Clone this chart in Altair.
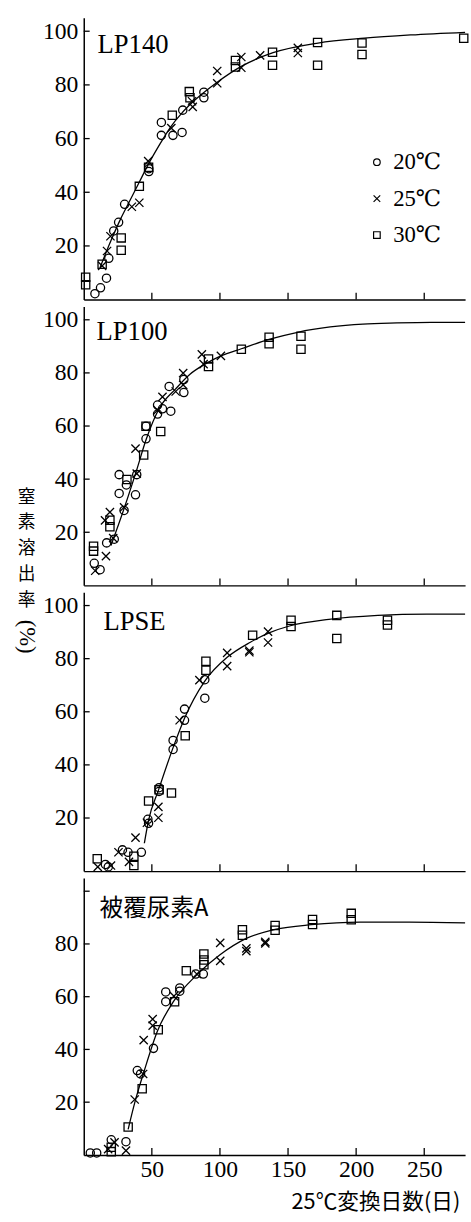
import altair as alt
import pandas as pd

# ---------------- data ----------------
TEMPS = ["20℃", "25℃", "30℃"]
X_TICKS = [50, 100, 150, 200, 250]
Y_TICKS = [20, 40, 60, 80, 100]
PANEL_NAMES = ["LP140", "LP100", "LPSE", "被覆尿素A"]
Y_TITLE = "窒\n素\n溶\n出\n率"
Y_TITLE_UNIT = "(%)"
X_TITLE = "25℃変換日数(日)"

# LP140
LP140_20_X = [8.2, 12.3, 16.7, 18.4, 22.0, 25.6, 30.0, 47.8, 47.8, 57.0, 57.0, 65.5, 72.7, 72.2, 88.2, 88.2]
LP140_20_Y = [2.2, 4.4, 8.0, 15.4, 25.6, 28.8, 35.5, 48.8, 47.7, 66.0, 61.2, 61.2, 70.6, 62.3, 75.2, 77.3]
LP140_25_X = [13.5, 17.1, 19.6, 35.3, 40.8, 47.3, 64.3, 80.0, 79.5, 98.0, 98.0, 115.7, 115.7, 129.5, 157.2, 157.2]
LP140_25_Y = [12.6, 18.1, 23.6, 34.6, 36.1, 51.6, 63.9, 71.8, 73.9, 85.2, 80.6, 90.4, 86.4, 91.0, 93.8, 91.9]
LP140_30_X = [1.4, 1.4, 13.5, 27.5, 27.5, 40.8, 47.6, 65.0, 77.5, 78.0, 111.4, 111.4, 138.6, 138.6, 171.7, 171.7, 204.3, 204.3, 279.0]
LP140_30_Y = [8.3, 5.5, 13.2, 23.0, 18.4, 42.2, 49.3, 68.7, 77.5, 75.2, 89.1, 86.7, 92.2, 87.3, 95.8, 87.3, 95.6, 91.3, 97.4]
LP140_FIT_X = [12, 20, 27, 34, 41, 47, 56, 64, 72, 80, 98, 116, 139, 172, 206, 240, 280]
LP140_FIT_Y = [12, 22, 30, 37, 44, 50, 58, 64.5, 69.5, 73.6, 81, 87, 92, 95.6, 97.4, 98.6, 99.6]

# LP100
LP100_20_X = [7.7, 12.0, 16.8, 22.4, 26.0, 26.0, 31.3, 29.6, 38.0, 38.9, 45.7, 45.7, 54.2, 54.2, 57.8, 62.7, 63.9, 73.5, 73.5]
LP100_20_Y = [8.3, 5.9, 16.0, 17.4, 41.7, 34.6, 37.8, 28.2, 34.1, 41.7, 59.9, 55.2, 67.9, 64.5, 66.5, 74.9, 65.6, 77.5, 72.6]
LP100_25_X = [8.4, 16.3, 15.6, 19.2, 21.6, 29.6, 38.0, 38.9, 54.2, 57.8, 67.5, 73.0, 73.0, 86.7, 88.0, 100.7]
LP100_25_Y = [5.5, 11.0, 24.5, 27.6, 17.8, 29.4, 51.5, 42.1, 66.0, 71.0, 73.0, 79.9, 75.5, 87.0, 83.3, 86.4]
LP100_30_X = [7.2, 7.2, 19.2, 19.2, 31.7, 44.0, 45.7, 56.5, 91.6, 91.6, 115.7, 136.1, 136.1, 159.5, 159.5]
LP100_30_Y = [14.7, 12.9, 24.5, 22.1, 39.9, 49.1, 59.9, 57.9, 85.2, 82.4, 88.9, 93.4, 91.0, 93.8, 88.9]
LP100_FIT_X = [20, 30, 38.6, 45.8, 55.4, 67.5, 78, 89, 100.7, 115.7, 136, 157, 181, 205, 230, 255, 280]
LP100_FIT_Y = [15, 29.5, 43, 54.9, 66.6, 74, 79.5, 83.3, 86.4, 89.1, 92.6, 95.3, 97.3, 98.4, 98.8, 99, 99]

# LPSE
LPSE_20_X = [15.9, 18.0, 28.4, 32.5, 42.3, 47.1, 47.6, 55.3, 55.3, 65.6, 65.6, 74.0, 74.0, 88.9, 88.9]
LPSE_20_Y = [2.5, 1.6, 8.0, 7.1, 7.1, 19.5, 18.0, 31.4, 30.0, 49.2, 45.8, 61.0, 56.8, 72.1, 65.1]
LPSE_25_X = [10.3, 20.0, 25.5, 33.2, 38.0, 46.4, 54.8, 54.8, 70.4, 84.9, 105.3, 105.3, 121.6, 121.6, 135.3, 135.3]
LPSE_25_Y = [1.6, 2.1, 7.1, 3.5, 12.6, 18.2, 24.2, 20.1, 56.8, 71.9, 82.2, 77.2, 83.0, 82.4, 90.2, 86.1]
LPSE_30_X = [9.9, 36.8, 36.8, 47.6, 55.3, 64.4, 74.5, 89.7, 89.7, 124.0, 152.2, 152.2, 185.8, 185.8, 223.0, 223.0]
LPSE_30_Y = [4.7, 5.6, 2.1, 26.4, 30.6, 29.4, 51.0, 79.0, 75.6, 88.8, 94.5, 92.1, 96.3, 87.6, 94.5, 92.7]
LPSE_FIT_X = [44.5, 47.6, 54.8, 65.6, 74, 88.5, 105.3, 122, 136.5, 151, 180, 216, 252, 280]
LPSE_FIT_Y = [10.5, 19.2, 30.4, 46.5, 57.6, 71.3, 80.5, 86.1, 89.8, 92.3, 94.8, 96.3, 96.8, 96.8]

# 被覆尿素A
CU_20_X = [4.8, 9.5, 20.2, 31.0, 39.3, 41.7, 51.2, 60.2, 60.2, 70.5, 70.5, 87.8, 82.3]
CU_20_Y = [0.75, 0.75, 5.75, 5.0, 32.0, 30.7, 40.4, 61.8, 58.1, 63.3, 62.1, 68.6, 68.6]
CU_25_X = [17.9, 22.6, 31.0, 37.4, 43.6, 44.0, 50.6, 50.6, 66.2, 83.0, 100.2, 100.2, 119.4, 119.4, 133.3, 133.3]
CU_25_Y = [2.2, 4.75, 1.6, 21.0, 30.7, 43.5, 51.5, 49.0, 60.2, 68.6, 80.4, 73.6, 78.3, 77.3, 80.8, 80.2]
CU_30_X = [20.2, 20.2, 32.6, 42.9, 54.7, 66.7, 75.3, 88.2, 88.2, 88.2, 116.5, 116.5, 140.5, 140.5, 168.0, 168.0, 196.4, 196.4]
CU_30_Y = [2.9, 1.25, 10.6, 25.1, 47.5, 58.1, 69.8, 76.2, 73.9, 72.1, 85.4, 83.3, 87.0, 85.2, 89.3, 87.4, 91.6, 89.2]
CU_FIT_X = [32.6, 37.4, 44.6, 54.2, 66.2, 83, 99.8, 119, 140.5, 167, 203, 239, 280]
CU_FIT_Y = [9.7, 19.7, 32.2, 47.1, 58.4, 68.3, 75.8, 82, 85.5, 87.3, 88.3, 88.3, 88]

SERIES = [
    [(LP140_20_X, LP140_20_Y), (LP140_25_X, LP140_25_Y), (LP140_30_X, LP140_30_Y), (LP140_FIT_X, LP140_FIT_Y)],
    [(LP100_20_X, LP100_20_Y), (LP100_25_X, LP100_25_Y), (LP100_30_X, LP100_30_Y), (LP100_FIT_X, LP100_FIT_Y)],
    [(LPSE_20_X, LPSE_20_Y), (LPSE_25_X, LPSE_25_Y), (LPSE_30_X, LPSE_30_Y), (LPSE_FIT_X, LPSE_FIT_Y)],
    [(CU_20_X, CU_20_Y), (CU_25_X, CU_25_Y), (CU_30_X, CU_30_Y), (CU_FIT_X, CU_FIT_Y)],
]

# ---------------- styling ----------------
W = 387
HEIGHTS = [286, 283, 283, 281]
SERIF = "Liberation Serif, DejaVu Serif"
CJK = "Noto Sans CJK JP"
XS = alt.Scale(domain=[0, 280], nice=False, zero=False)
YS = alt.Scale(domain=[0, 105], nice=False, zero=False)
SHAPES = ["circle", "M-1,-1L1,1M-1,1L1,-1", "square"]
LABEL_POS = [(14, 28, SERIF, 27), (13, 26, SERIF, 27), (20, 30, SERIF, 27), (16, 32, CJK, 24)]


def make_panel(i):
    H = HEIGHTS[i]
    s20, s25, s30, fit = SERIES[i]
    rows = []
    for temp, (xs, ys) in zip(TEMPS, [s20, s25, s30]):
        for xv, yv in zip(xs, ys):
            rows.append({"x": xv, "y": yv, "temp": temp})
    pts = pd.DataFrame(rows)
    curve = pd.DataFrame({"x": fit[0], "y": fit[1]})

    if i == 3:
        xaxis = alt.Axis(values=X_TICKS, ticks=False, grid=False, labelFont=SERIF,
                         labelFontSize=24, labelPadding=3, labelColor="black",
                         title=X_TITLE, titleFont=CJK, titleFontSize=22,
                         titleFontWeight="normal", titleColor="black",
                         titleX=296, titleY=37, titleBaseline="top", titleAlign="center",
                         domainColor="black", domainWidth=1.5)
        yvals = [20, 40, 60, 80]
    else:
        xaxis = alt.Axis(labels=False, ticks=False, grid=False, title=None,
                         domainColor="black", domainWidth=1.5)
        yvals = Y_TICKS

    yaxis = alt.Axis(values=yvals, ticks=False, grid=False, labelFont=SERIF, labelFontSize=24,
                     labelPadding=6, labelColor="black", domainColor="black", domainWidth=1.5,
                     title=None)

    if i == 0:
        legend = alt.Legend(orient="none", legendX=286, legendY=135, title=None,
                            labelFont=SERIF, labelFontSize=23, labelColor="black",
                            labelOffset=5, rowPadding=13, symbolSize=45,
                            symbolStrokeWidth=1.2, symbolStrokeColor="black",
                            symbolFillColor="transparent")
    else:
        legend = None

    x_enc = alt.X("x:Q", scale=XS, axis=xaxis)
    y_enc = alt.Y("y:Q", scale=YS, axis=yaxis)

    points = alt.Chart(pts).mark_point(filled=False, size=70, strokeWidth=1.3, color="black", opacity=1).encode(
        x=x_enc, y=y_enc,
        shape=alt.Shape("temp:N", scale=alt.Scale(domain=TEMPS, range=SHAPES), legend=legend),
    )
    line = alt.Chart(curve).mark_line(color="black", strokeWidth=1.3, interpolate="monotone").encode(
        x=x_enc, y=y_enc
    )
    xt = alt.Chart(pd.DataFrame({"t": X_TICKS})).mark_rule(color="black", strokeWidth=1.3).encode(
        x=alt.X("t:Q", scale=XS, axis=xaxis), y=alt.value(H), y2=alt.value(H - 7)
    )
    yt = alt.Chart(pd.DataFrame({"t": Y_TICKS})).mark_rule(color="black", strokeWidth=1.3).encode(
        y=alt.Y("t:Q", scale=YS, axis=yaxis), x=alt.value(0), x2=alt.value(6)
    )
    lx, ly, lf, ls = LABEL_POS[i]
    label = alt.Chart(pd.DataFrame({"name": [PANEL_NAMES[i]]})).mark_text(
        align="left", baseline="middle", font=lf, fontSize=ls, color="black"
    ).encode(text="name:N", x=alt.value(lx), y=alt.value(ly))

    layers = [line, points, xt, yt, label]
    if i == 1:
        ytitle = alt.Chart(pd.DataFrame({"t": [Y_TITLE]})).mark_text(
            align="center", baseline="top", font=CJK, fontSize=18, lineHeight=26.2,
            lineBreak="\n", color="black"
        ).encode(text="t:N", x=alt.value(-58), y=alt.value(185))
        layers.append(ytitle)
    if i == 2:
        yunit = alt.Chart(pd.DataFrame({"t": [Y_TITLE_UNIT]})).mark_text(
            align="center", baseline="middle", font=SERIF, fontSize=23, angle=90, color="black"
        ).encode(text="t:N", x=alt.value(-58), y=alt.value(45))
        layers.append(yunit)

    return alt.layer(*layers).properties(width=W, height=H)


chart = alt.vconcat(*[make_panel(i) for i in range(4)], spacing=7, bounds="flush").resolve_scale(
    x="independent", y="independent", shape="independent"
).properties(
    padding={"left": 15, "top": 9, "right": 0, "bottom": 0}, background="white"
).configure_view(stroke=None)

chart.save("out.html", embed_options={"renderer": "svg", "actions": False})
